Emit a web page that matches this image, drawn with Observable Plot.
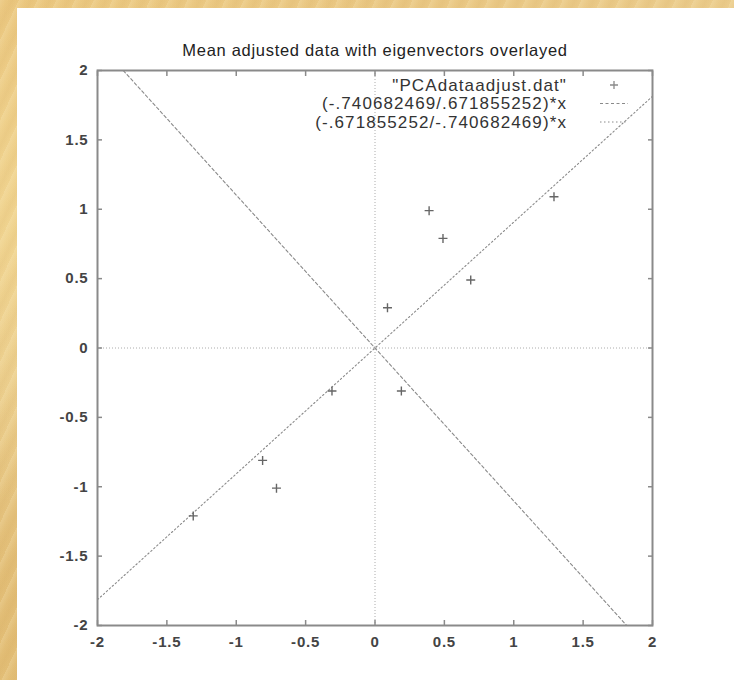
<!DOCTYPE html>
<html>
<head>
<meta charset="utf-8">
<script src="https://cdn.jsdelivr.net/npm/d3@7"></script>
<script src="https://cdn.jsdelivr.net/npm/@observablehq/plot@0.6"></script>
<style>
  html, body { margin: 0; padding: 0; }
  body {
    width: 734px; height: 680px; position: relative; overflow: hidden;
    background:
      repeating-linear-gradient(115deg, rgba(255,245,210,0.18) 0px, rgba(255,245,210,0) 6px, rgba(190,140,60,0.08) 11px, rgba(255,245,210,0) 17px),
      radial-gradient(ellipse at 10% 30%, rgba(245,220,150,0.6), rgba(245,220,150,0) 45%),
      radial-gradient(ellipse at 5% 85%, rgba(215,170,90,0.35), rgba(215,170,90,0) 40%),
      linear-gradient(160deg, #e8c27a 0%, #ecd093 40%, #e6c47f 70%, #ead08e 100%);
  }
  #panel { position: absolute; left: 17px; top: 8px; right: 0; bottom: 0; background: #fff; }
  #chart { position: absolute; left: 0; top: 0; }
  #chart svg { background: transparent; overflow: visible; }
</style>
</head>
<body>
<div id="panel"></div>
<div id="chart"></div>
<script>
const titleText = "Mean adjusted data with eigenvectors overlayed";
const xs = [0.69, -1.31, 0.39, 0.09, 1.29, 0.49, 0.19, -0.81, -0.31, -0.71];
const ys = [0.49, -1.21, 0.99, 0.29, 1.09, 0.79, -0.31, -0.81, -0.31, -1.01];
const eigen1 = [-0.740682469, 0.671855252];
const eigen2 = [-0.671855252, -0.740682469];
const legendLabels = ['"PCAdataadjust.dat"', '(-.740682469/.671855252)*x', '(-.671855252/-.740682469)*x'];
const tickValues = [-2, -1.5, -1, -0.5, 0, 0.5, 1, 1.5, 2];
const domain = [-2, 2];

const points = xs.map((x, i) => ({x, y: ys[i]}));
const slope1 = eigen1[0] / eigen1[1];
const slope2 = eigen2[0] / eigen2[1];
const line1 = domain.map(x => ({x, y: slope1 * x}));
const line2 = domain.map(x => ({x, y: slope2 * x}));

const gray = "#8a8a8a";
const fmt = d => String(d);
const font = "'Liberation Sans', Arial, sans-serif";

function legend(index, scales, values, dims) {
  const g = d3.create("svg:g");
  const right = dims.width - dims.marginRight;
  const top = dims.marginTop;
  const textX = right - 85;
  const x1 = right - 52, x2 = right - 24;
  const rows = [15, 33.5, 52];
  legendLabels.forEach((t, i) => {
    g.append("text").attr("x", textX).attr("y", top + rows[i])
      .attr("text-anchor", "end").attr("dy", "0.35em")
      .attr("font-family", font).attr("letter-spacing", "1.1px")
      .attr("font-size", 17).attr("fill", "#333").text(t);
  });
  const cx = (x1 + x2) / 2, cy = top + rows[0];
  g.append("path").attr("d", `M${cx-4},${cy}h8M${cx},${cy-4}v8`).attr("stroke", gray).attr("stroke-width", 1.3);
  g.append("line").attr("x1", x1).attr("x2", x2).attr("y1", top + rows[1]).attr("y2", top + rows[1])
    .attr("stroke", gray).attr("stroke-dasharray", "3,2.5");
  g.append("line").attr("x1", x1).attr("x2", x2).attr("y1", top + rows[2]).attr("y2", top + rows[2])
    .attr("stroke", gray).attr("stroke-dasharray", "1.5,2.5");
  return g.node();
}

const tickStyle = {stroke: gray, strokeWidth: 1.5, tickSize: 5, fill: "none", label: null, ticks: tickValues};
const labelStyle = {ticks: tickValues, tickSize: 0, tickFormat: fmt, label: null,
  fontSize: 15, fontWeight: "bold", fill: "#444"};

const chart = Plot.plot({
  width: 734,
  height: 680,
  marginLeft: 97,
  marginRight: 82,
  marginTop: 70,
  marginBottom: 55,
  style: {fontFamily: font, background: "transparent"},
  x: {domain, ticks: tickValues},
  y: {domain, ticks: tickValues},
  marks: [
    Plot.ruleX([0], {stroke: gray, strokeDasharray: "1,2", strokeOpacity: 0.7}),
    Plot.ruleY([0], {stroke: gray, strokeDasharray: "1,2", strokeOpacity: 0.7}),
    Plot.line(line1, {x: "x", y: "y", stroke: gray, strokeWidth: 1.1, strokeDasharray: "3,2.5", clip: true}),
    Plot.line(line2, {x: "x", y: "y", stroke: gray, strokeWidth: 1.1, strokeDasharray: "1.5,2.5", clip: true}),
    Plot.dot(points, {x: "x", y: "y", symbol: "plus", r: 3, stroke: "#666", strokeWidth: 1.4}),
    Plot.axisX({...tickStyle, anchor: "bottom", dy: -5}),
    Plot.axisX({...tickStyle, anchor: "top", dy: 5}),
    Plot.axisY({...tickStyle, anchor: "left", dx: 5}),
    Plot.axisY({...tickStyle, anchor: "right", dx: -5}),
    Plot.axisX({...labelStyle, anchor: "bottom", tickPadding: 11}),
    Plot.axisY({...labelStyle, anchor: "left", tickPadding: 9}),
    Plot.frame({stroke: gray, strokeWidth: 2}),
    Plot.text([titleText], {frameAnchor: "top", dy: -26, fontSize: 16.5, fill: "#222", text: d => d}),
    legend
  ]
});
const svg = d3.select(chart);
svg.selectAll("text").filter(function () { return this.textContent === titleText; })
  .attr("letter-spacing", "0.7px");
svg.selectAll("g[aria-label='x-axis tick label'], g[aria-label='y-axis tick label']")
  .attr("letter-spacing", "0.8px");
document.getElementById("chart").append(chart);
</script>
</body>
</html>
